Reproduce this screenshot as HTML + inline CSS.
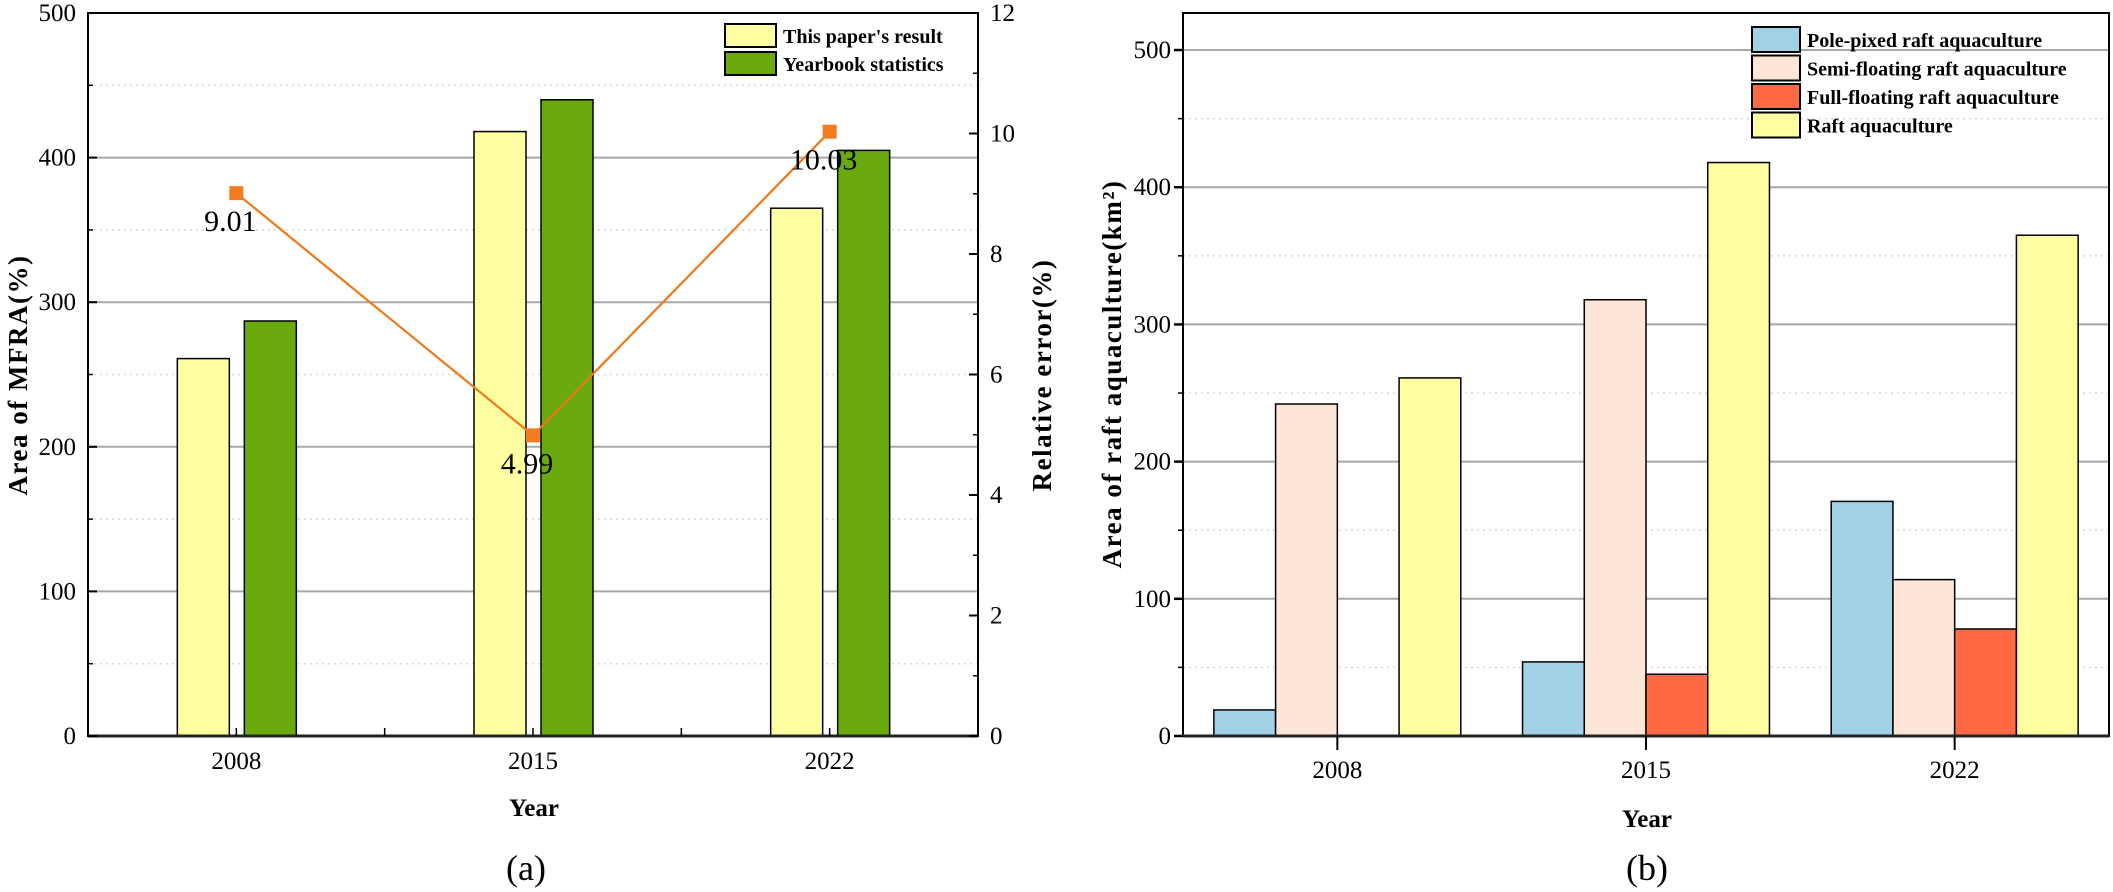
<!DOCTYPE html>
<html><head><meta charset="utf-8"><style>
html,body{margin:0;padding:0;background:#fff;}
svg{display:block;font-family:"Liberation Serif",serif;}
</style></head><body>
<svg id="fig" width="2113" height="892" viewBox="0 0 2113 892" xmlns="http://www.w3.org/2000/svg"></svg>
<script>
const years = ["2008","2015","2022"];
const paperResult = [261, 418, 365];
const yearbookStats = [287, 440, 405];
const relError = [9.01, 4.99, 10.03];
const relErrorLabels = ["9.01","4.99","10.03"];
const leftTicks = [0,100,200,300,400,500];
const rightTicks = [0,2,4,6,8,10,12];

const poleFixed = [19, 54, 171];
const semiFloating = [242, 318, 114];
const fullFloating = [0, 45, 78];
const raftTotal = [261, 418, 365];
const bTicks = [0,100,200,300,400,500];

const NS = "http://www.w3.org/2000/svg";
const svg = document.getElementById('fig');
function mk(tag, attrs, parent, text){
  const e = document.createElementNS(NS, tag);
  for (const k in attrs) e.setAttribute(k, attrs[k]);
  if (text !== undefined) e.textContent = text;
  (parent || svg).appendChild(e);
  return e;
}

/* ---------- Chart (a) ---------- */
const A = {x0:88, x1:978, y0:736, y1:13};
const ay = v => A.y0 - v/500*(A.y0-A.y1);
const ay2 = v => A.y0 - v/12*(A.y0-A.y1);
const aCat = (A.x1-A.x0)/3;
const ax = i => A.x0 + aCat*(i+0.5);
const ga = mk('g', {});



// grid
for (let v=50; v<500; v+=50){
  const major = v%100===0;
  const l = mk('line', {x1:A.x0, x2:A.x1, y1:ay(v), y2:ay(v), stroke: major?'#a8a8a8':'#d8d8d8', 'stroke-width': major?2:1.5, 'stroke-dasharray': major?'none':'2,4'}, ga);
  
  
}
// bars
const bw = 52;
years.forEach((y,i)=>{
  const b1 = mk('rect', {x:ax(i)-33-bw/2, y:ay(paperResult[i]), width:bw, height:A.y0-ay(paperResult[i]), fill:'#ffffa2', stroke:'#000', 'stroke-width':1.5}, ga);
  
  
  const b2 = mk('rect', {x:ax(i)+34-bw/2, y:ay(yearbookStats[i]), width:bw, height:A.y0-ay(yearbookStats[i]), fill:'#6aaa0e', stroke:'#000', 'stroke-width':1.5}, ga);
  
  
});
// axes frame
const fa = mk('rect', {x:A.x0, y:A.y1, width:A.x1-A.x0, height:A.y0-A.y1, fill:'none', stroke:'#000', 'stroke-width':2}, ga);


mk('line', {x1:A.x0, x2:A.x1, y1:A.y0, y2:A.y0, stroke:'#222', 'stroke-width':3}, ga);
// left ticks & labels
leftTicks.forEach(v=>{
  mk('line', {x1:A.x0, x2:A.x0+9, y1:ay(v), y2:ay(v), stroke:'#000','stroke-width':2}, ga);
  const t = mk('text', {x:A.x0-12, y:ay(v)+8, 'text-anchor':'end', 'font-size':25}, ga, String(v));
  
  
});
for (let v=50; v<500; v+=100) mk('line', {x1:A.x0, x2:A.x0+5, y1:ay(v), y2:ay(v), stroke:'#000','stroke-width':1.5}, ga);
// right ticks
rightTicks.forEach(v=>{
  mk('line', {x1:A.x1-9, x2:A.x1, y1:ay2(v), y2:ay2(v), stroke:'#000','stroke-width':2}, ga);
  const t = mk('text', {x:A.x1+12, y:ay2(v)+8, 'text-anchor':'start', 'font-size':25}, ga, String(v));
  
  
});
for (let v=1; v<12; v+=2) mk('line', {x1:A.x1-5, x2:A.x1, y1:ay2(v), y2:ay2(v), stroke:'#000','stroke-width':1.5}, ga);
// x ticks
years.forEach((y,i)=>{
  mk('line', {x1:ax(i), x2:ax(i), y1:A.y0, y2:A.y0-8, stroke:'#000','stroke-width':1.5}, ga);
  if (i>0) mk('line', {x1:A.x0+aCat*i, x2:A.x0+aCat*i, y1:A.y0, y2:A.y0-8, stroke:'#000','stroke-width':1.5}, ga);
  const t = mk('text', {x:ax(i), y:769, 'text-anchor':'middle', 'font-size':25}, ga, y);
  
  
});
// line
const pts = relError.map((v,i)=>ax(i)+','+ay2(v)).join(' ');
const pl = mk('polyline', {points:pts, fill:'none', stroke:'#f07818', 'stroke-width':2.2}, ga);


const lblDy = [32, 32, 32];
relError.forEach((v,i)=>{
  const m = mk('rect', {x:ax(i)-7, y:ay2(v)-7, width:14, height:14, fill:'#f47c20'}, ga);
  
  
  const t = mk('text', {x:ax(i)-6, y:ay2(v)+lblDy[i]+6, 'text-anchor':'middle', 'font-size':30}, ga, relErrorLabels[i]);
  
  
});
// titles
const yt = mk('text', {x:0, y:0, transform:'translate(27,375) rotate(-90)', 'text-anchor':'middle', 'font-size':27, 'font-weight':'bold', 'letter-spacing':1.5}, ga, 'Area of MFRA(%)');


const yt2 = mk('text', {x:0, y:0, transform:'translate(1051,375) rotate(-90)', 'text-anchor':'middle', 'font-size':27, 'font-weight':'bold', 'letter-spacing':1.5}, ga, 'Relative error(%)');


const xt = mk('text', {x:534, y:816, 'text-anchor':'middle', 'font-size':25, 'font-weight':'bold'}, ga, 'Year');


const pa = mk('text', {x:526, y:880, 'text-anchor':'middle', 'font-size':36}, ga, '(a)');


// legend a
const legA = [['This paper\'s result','#ffffa2'],['Yearbook statistics','#6aaa0e']];
legA.forEach((d,i)=>{
  const r = mk('rect', {x:725, y:24+i*28, width:51, height:23, fill:d[1], stroke:'#000', 'stroke-width':2}, ga);
  
  
  const t = mk('text', {x:783, y:43+i*28, 'font-size':20, 'font-weight':'bold'}, ga, d[0]);
  
  
});

/* ---------- Chart (b) ---------- */
const B = {x0:1183, x1:2109, y0:736, y1:13, vmax:527};
const by = v => B.y0 - v/B.vmax*(B.y0-B.y1);
const bCat = (B.x1-B.x0)/3;
const bx = i => B.x0 + bCat*(i+0.5);
const gb = mk('g', {});


for (let v=50; v<=500; v+=50){
  const major = v%100===0;
  const l = mk('line', {x1:B.x0, x2:B.x1, y1:by(v), y2:by(v), stroke: major?'#a8a8a8':'#d8d8d8', 'stroke-width': major?2:1.5, 'stroke-dasharray': major?'none':'2,4'}, gb);
  
  
}
const series = [[poleFixed,'#a2d1e8','pole-fixed'],[semiFloating,'#fde5d7','semi-floating'],[fullFloating,'#ff6a45','full-floating'],[raftTotal,'#ffffa2','raft-total']];
const sbw = bCat*0.8/4;
years.forEach((y,i)=>{
  series.forEach((s,k)=>{
    const v = s[0][i];
    const r = mk('rect', {x:bx(i)-bCat*0.4+k*sbw, y:by(v), width:sbw, height:B.y0-by(v), fill:s[1], stroke:'#000', 'stroke-width':1.5}, gb);
    
    
  });
});
const fb = mk('rect', {x:B.x0, y:B.y1, width:B.x1-B.x0, height:B.y0-B.y1, fill:'none', stroke:'#000', 'stroke-width':2}, gb);


mk('line', {x1:B.x0, x2:B.x1, y1:B.y0, y2:B.y0, stroke:'#222', 'stroke-width':3}, gb);
bTicks.forEach(v=>{
  mk('line', {x1:B.x0-9, x2:B.x0, y1:by(v), y2:by(v), stroke:'#000','stroke-width':2.5}, gb);
  const t = mk('text', {x:B.x0-12, y:by(v)+8, 'text-anchor':'end', 'font-size':25}, gb, String(v));
  
  
});
for (let v=50; v<500; v+=100) mk('line', {x1:B.x0-5, x2:B.x0, y1:by(v), y2:by(v), stroke:'#000','stroke-width':1.5}, gb);
years.forEach((y,i)=>{
  mk('line', {x1:bx(i), x2:bx(i), y1:B.y0, y2:B.y0+14, stroke:'#000','stroke-width':2}, gb);
  const t = mk('text', {x:bx(i), y:778, 'text-anchor':'middle', 'font-size':25}, gb, y);
  
  
});
const byt = mk('text', {x:0, y:0, transform:'translate(1121,374) rotate(-90)', 'text-anchor':'middle', 'font-size':27, 'font-weight':'bold', 'letter-spacing':1.5}, gb, 'Area of raft aquaculture(km²)');


const bxt = mk('text', {x:1647, y:827, 'text-anchor':'middle', 'font-size':25, 'font-weight':'bold'}, gb, 'Year');


const pb = mk('text', {x:1647, y:880, 'text-anchor':'middle', 'font-size':36}, gb, '(b)');


const legB = ['Pole-pixed raft aquaculture','Semi-floating raft aquaculture','Full-floating raft aquaculture','Raft aquaculture'];
legB.forEach((name,i)=>{
  const r = mk('rect', {x:1752, y:27+i*28.5, width:48, height:25, fill:series[i][1], stroke:'#000', 'stroke-width':2}, gb);
  
  
  const t = mk('text', {x:1807, y:47+i*28.5, 'font-size':20, 'font-weight':'bold'}, gb, name);
  
  
});
</script>
</body></html>
